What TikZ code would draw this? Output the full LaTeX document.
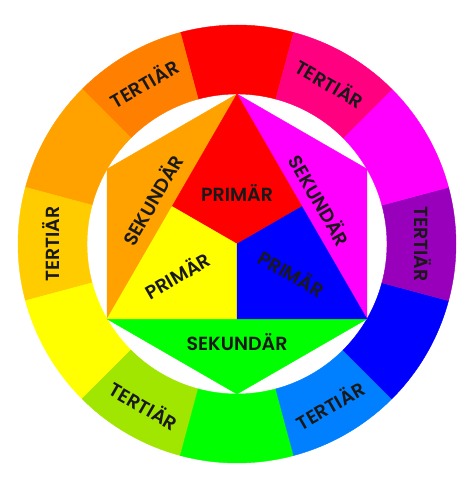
\documentclass[tikz,border=0pt]{standalone}
\usepackage{fontspec}
\setmainfont{Poppins}[UprightFont=* SemiBold]
\usetikzlibrary{calc}
\definecolor{rot}{HTML}{FF0000}
\definecolor{rotorange}{HTML}{FF8000}
\definecolor{orange}{HTML}{FFA200}
\definecolor{gelborange}{HTML}{FFCC00}
\definecolor{gelb}{HTML}{FFFF00}
\definecolor{gelbgruen}{HTML}{A0E600}
\definecolor{gruen}{HTML}{00FF00}
\definecolor{blaugruen}{HTML}{0080FF}
\definecolor{blau}{HTML}{0000FF}
\definecolor{violett}{HTML}{9900BB}
\definecolor{magenta}{HTML}{FF00FF}
\definecolor{rotviolett}{HTML}{FF0080}
\begin{document}
\begin{tikzpicture}[x=1pt, y=1pt, line join=round,
	lab/.style={font=\fontsize{19}{19}\selectfont, text=black!90, inner sep=0pt}]
	\def\ro{219}\def\ri{150}\def\rt{186}
	\useasboundingbox (-237,-237) rectangle (237,244);
	% farbkreis
	\foreach \a/\c in {90/rot, 120/rotorange, 150/orange, 180/gelborange, 210/gelb, 240/gelbgruen,
		270/gruen, 300/blaugruen, 330/blau, 0/violett, 30/magenta, 60/rotviolett}
		\filldraw[fill=\c, draw=\c, line width=0.4pt] (\a-15:\ro) arc[start angle=\a-15, end angle=\a+15, radius=\ro]
			-- (\a+15:\ri) arc[start angle=\a+15, end angle=\a-15, radius=\ri] -- cycle;
	% sechseck
	\coordinate (o) at (0,0);
	\foreach \n/\a in {t/90, ol/150, ul/210, b/270, ur/330, or/30}
		\coordinate (\n) at (\a:\ri);
	\coordinate (ml) at ($(t)!0.5!(ul)$);
	\coordinate (mr) at ($(t)!0.5!(ur)$);
	\coordinate (mb) at ($(ul)!0.5!(ur)$);
	\filldraw[fill=orange, draw=orange] (t) -- (ol) -- (ul) -- cycle;
	\filldraw[fill=magenta, draw=magenta] (t) -- (or) -- (ur) -- cycle;
	\filldraw[fill=gruen, draw=gruen] (ul) -- (b) -- (ur) -- cycle;
	\filldraw[fill=rot, draw=rot] (t) -- (ml) -- (o) -- (mr) -- cycle;
	\filldraw[fill=gelb, draw=gelb] (ml) -- (ul) -- (mb) -- (o) -- cycle;
	\filldraw[fill=blau, draw=blau] (o) -- (mb) -- (ur) -- (mr) -- cycle;
	% beschriftung
	\node[lab] (p1) at (0,51) {PRIMÄR};
	\node[lab, rotate=30] (p2) at (-60,-31) {PRIMÄR};
	\node[lab, rotate=-30] (p3) at (55,-29) {PRIMÄR};
	\node[lab, rotate=60] (s1) at (-85,44) {SEKUNDÄR};
	\node[lab, rotate=-60] (s2) at (83,44) {SEKUNDÄR};
	\node[lab] (s3) at (0,-98) {SEKUNDÄR};
	\foreach \a/\r/\n in {120/30/t1, 60/-30/t2, 180/90/t3, 0/-90/t4, 240/-30/t5, 300/30/t6}
		\node[lab, rotate=\r] (\n) at (\a:\rt) {TERTIÄR};
\end{tikzpicture}
\end{document}
